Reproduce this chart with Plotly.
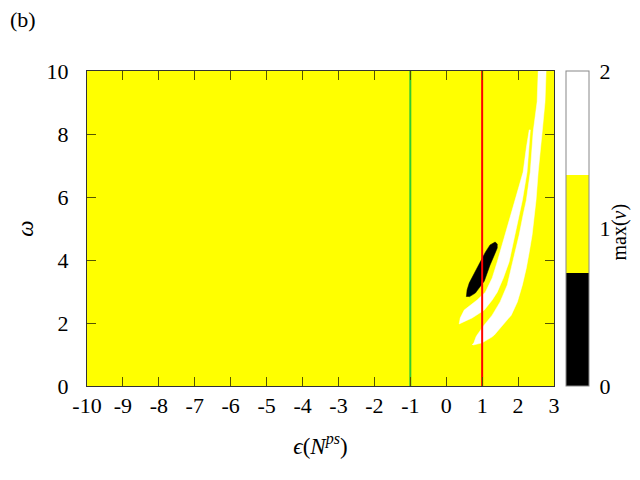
import plotly.graph_objects as go

# ── Data ─────────────────────────────────────────────────────────────────────
X_RANGE = [-10, 3]
Y_RANGE = [0, 10]
X_TICKS = list(range(-10, 4))
Y_TICKS = [0, 2, 4, 6, 8, 10]
CB_TICKS = [0, 1, 2]

# background value of max(nu) over the whole (eps, omega) plane
BG_VALUE = [[1]]

# outer (left) white band, max(nu)=2
band_a_y = [1.97, 2.16, 2.41, 2.73, 2.98, 3.43, 3.94, 4.38, 4.79, 5.43, 5.90, 6.79, 7.56, 8.13]
band_a_xl = [0.36, 0.39, 0.50, 0.86, 1.09, 1.28, 1.42, 1.53, 1.64, 1.81, 1.92, 2.14, 2.23, 2.31]
band_a_xr = [0.36, 0.72, 1.06, 1.28, 1.42, 1.59, 1.75, 1.84, 1.92, 2.03, 2.12, 2.25, 2.31, 2.34]

# inner (right) white band, max(nu)=2
band_b_y = [1.30, 1.37, 1.56, 1.62, 1.94, 2.25, 2.67, 3.21, 3.75, 4.25, 4.79, 5.43, 5.90, 6.79, 7.56, 8.06, 9.02, 10.0]
band_b_xl = [0.72, 0.77, 0.83, 0.86, 1.06, 1.28, 1.50, 1.70, 1.81, 1.92, 2.03, 2.14, 2.23, 2.34, 2.39, 2.42, 2.53, 2.56]
band_b_xr = [0.75, 1.00, 1.28, 1.34, 1.59, 1.81, 1.98, 2.12, 2.23, 2.31, 2.39, 2.45, 2.50, 2.56, 2.62, 2.67, 2.75, 2.78]

# black island, max(nu)=0 (closed outline)
blob_x = [0.56, 0.58, 0.64, 0.86, 1.09, 1.22, 1.36, 1.42, 1.42, 1.34, 1.22, 1.06, 0.81, 0.64]
blob_y = [2.83, 3.05, 3.27, 3.75, 4.25, 4.48, 4.57, 4.51, 4.38, 4.16, 3.84, 3.33, 2.95, 2.83]

# vertical markers
green_x = -1
red_x = 1

# ── Style ────────────────────────────────────────────────────────────────────
FONT = "Liberation Serif, DejaVu Serif, serif"
YELLOW = "#ffff00"
COLORSCALE = [
    [0.0, "#000000"], [0.36, "#000000"],
    [0.36, YELLOW], [0.67, YELLOW],
    [0.67, "#ffffff"], [1.0, "#ffffff"],
]

fig = go.Figure()

fig.add_trace(go.Heatmap(
    x=X_RANGE, y=Y_RANGE, z=BG_VALUE,
    zmin=0, zmax=2, colorscale=COLORSCALE, hoverinfo="skip",
    colorbar=dict(
        x=1.0257, xanchor="left", y=0.5, yanchor="middle",
        len=1.0, lenmode="fraction", thickness=23, xpad=0, ypad=0,
        outlinecolor="#888888", outlinewidth=1,
        tickvals=CB_TICKS, ticktext=[str(v) for v in CB_TICKS],
        ticks="outside", ticklen=6, tickcolor="rgba(0,0,0,0)",
        tickfont=dict(family=FONT, size=22, color="black"),
    ),
))


def band(xl, xr, y, color):
    xs = list(xl) + list(reversed(xr))
    ys = list(y) + list(reversed(y))
    return go.Scatter(x=xs, y=ys, fill="toself", fillcolor=color, mode="lines",
                      line=dict(color=color, width=0.5), hoverinfo="skip",
                      showlegend=False)


fig.add_trace(band(band_a_xl, band_a_xr, band_a_y, "#ffffff"))
fig.add_trace(band(band_b_xl, band_b_xr, band_b_y, "#ffffff"))
fig.add_trace(go.Scatter(x=blob_x, y=blob_y, fill="toself", fillcolor="#000000",
                         mode="lines", line=dict(color="#000000", width=0.5),
                         hoverinfo="skip", showlegend=False))

fig.add_trace(go.Scatter(x=[green_x, green_x], y=Y_RANGE, mode="lines",
                         line=dict(color="#33cc33", width=2), hoverinfo="skip",
                         showlegend=False))
fig.add_trace(go.Scatter(x=[red_x, red_x], y=Y_RANGE, mode="lines",
                         line=dict(color="#ff0000", width=2), hoverinfo="skip",
                         showlegend=False))

axis_common = dict(
    showgrid=False, zeroline=False, showline=True, mirror="ticks",
    linecolor="#333333", linewidth=1, ticks="inside", ticklen=9,
    tickcolor="#555500", tickwidth=1,
    tickfont=dict(family=FONT, size=22, color="black"),
)

fig.update_xaxes(range=X_RANGE, tickvals=X_TICKS, ticktext=[str(v) for v in X_TICKS],
                 title=dict(text="<i>ϵ</i>(<i>N<sup>ps</sup></i>)", standoff=20,
                            font=dict(family=FONT, size=23, color="black")),
                 **axis_common)
fig.update_yaxes(range=Y_RANGE, tickvals=Y_TICKS, ticktext=[str(v) for v in Y_TICKS],
                 ticklabelstandoff=13,
                 title=dict(text="<i>ω</i>", standoff=6,
                            font=dict(family=FONT, size=23, color="black")),
                 **axis_common)

fig.add_annotation(text="(b)", xref="paper", yref="paper", x=-0.169, y=1.162,
                   xanchor="left", yanchor="middle", showarrow=False,
                   font=dict(family=FONT, size=22, color="black"))
fig.add_annotation(text="max(<i>ν</i>)", xref="paper", yref="paper", x=1.141, y=0.49,
                   xanchor="center", yanchor="middle", textangle=-90, showarrow=False,
                   font=dict(family=FONT, size=20, color="black"))

fig.update_layout(
    width=640, height=480,
    margin=dict(l=79, r=94, t=63, b=102, autoexpand=False),
    paper_bgcolor="white", plot_bgcolor=YELLOW,
    showlegend=False,
)

fig.write_html("out.html")
